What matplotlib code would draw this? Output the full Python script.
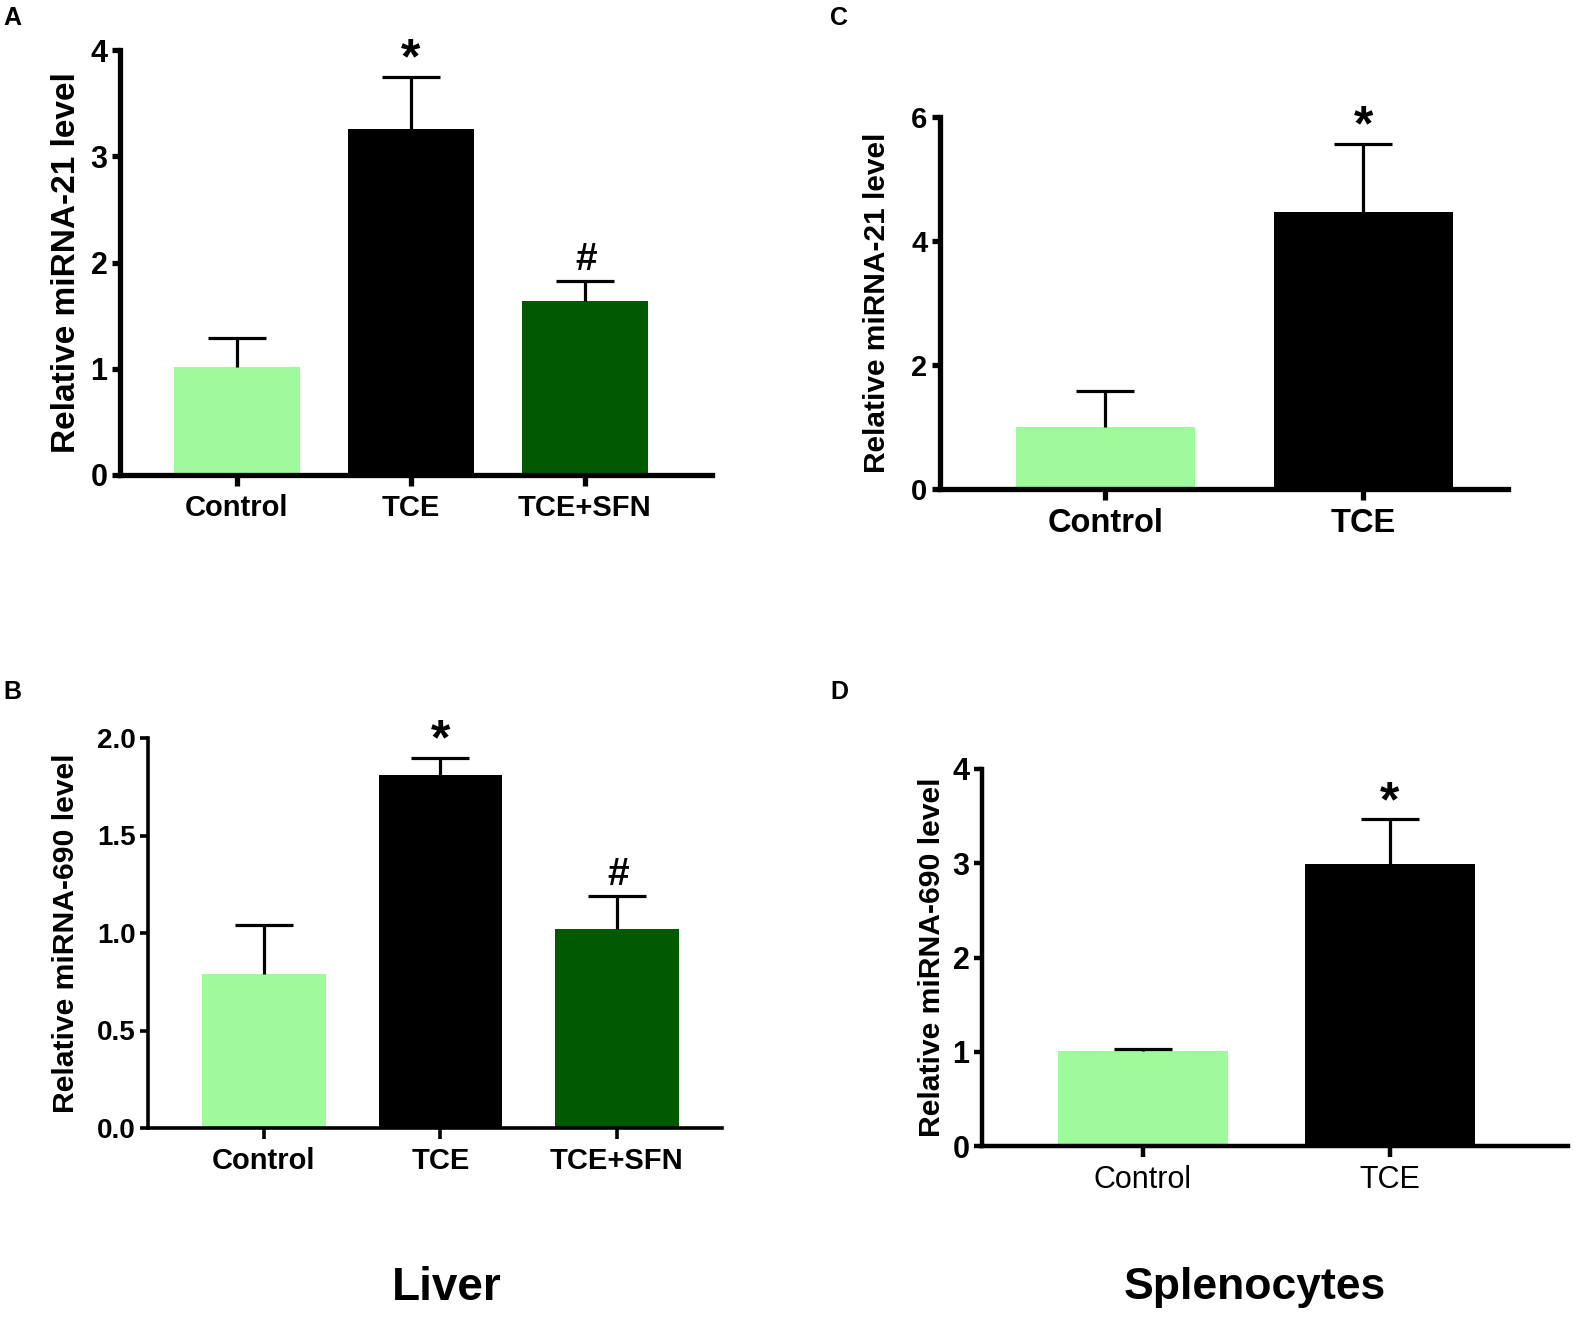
import matplotlib.pyplot as plt
import numpy as np

plt.rcParams['font.family'] = ['Liberation Sans', 'DejaVu Sans']

W, H = 1579, 1320
fig = plt.figure(figsize=(W / 100, H / 100), dpi=100)

LIGHT = '#9ffa9c'
DARK = '#015a01'
BLACK = '#000000'

# --- data ---
liver_groups = ['Control', 'TCE', 'TCE+SFN']
spleen_groups = ['Control', 'TCE']

a_mean = [1.02, 3.26, 1.64]     # liver miRNA-21
a_err = [0.27, 0.49, 0.19]
b_mean = [0.79, 1.81, 1.02]     # liver miRNA-690
b_err = [0.25, 0.09, 0.17]
c_mean = [1.00, 4.47]           # splenocytes miRNA-21
c_err = [0.58, 1.10]
d_mean = [1.01, 2.99]           # splenocytes miRNA-690
d_err = [0.02, 0.48]

liver_marks = ['', '*', '#']
spleen_marks = ['', '*']

a_yticks = [0, 1, 2, 3, 4]
b_yticks = [0.0, 0.5, 1.0, 1.5, 2.0]
c_yticks = [0, 2, 4, 6]
d_yticks = [0, 1, 2, 3, 4]


def px_axes(l, r, t, b):
    return fig.add_axes([l / W, 1 - b / H, (r - l) / W, (b - t) / H])


def panel(box, groups, means, errs, colors, marks, yticks, ylabels, xlim, width,
          ylabel, spine_w, xfs, yfs, lfs, label_right, x_bold=True, mark_fs=36):
    l, r, t, b = box
    ax = px_axes(l, r, t, b)
    x = np.arange(len(groups))
    ax.bar(x, means, width=width, color=colors, edgecolor='none', zorder=1)
    eb = ax.errorbar(x, means, yerr=[np.zeros(len(x)), errs], fmt='none',
                     ecolor='black', elinewidth=2.3, capsize=21, capthick=2.3, zorder=3)
    # only the upper cap is shown
    eb[1][0].set_visible(False)
    for xi, m, e, s in zip(x, means, errs, marks):
        if not s:
            continue
        if s == '*':
            ax.annotate(s, (xi, m + e), xytext=(0, -5), textcoords='offset points',
                        ha='center', va='bottom', fontsize=mark_fs, fontweight='bold')
        else:
            ax.annotate(s, (xi, m + e), xytext=(1, 2), textcoords='offset points',
                        ha='center', va='bottom', fontsize=mark_fs * 0.78, fontweight='bold')
    ax.set_xlim(*xlim)
    ax.set_ylim(yticks[0], yticks[-1])
    ax.set_yticks(yticks)
    ax.set_yticklabels(ylabels, fontsize=yfs, fontweight='bold')
    ax.set_xticks(x)
    ax.set_xticklabels(groups, fontsize=xfs, fontweight='bold' if x_bold else 'normal')
    for side in ['top', 'right']:
        ax.spines[side].set_visible(False)
    for side in ['left', 'bottom']:
        ax.spines[side].set_linewidth(spine_w)
    ax.tick_params(axis='x', length=8, width=spine_w, pad=6)
    ax.tick_params(axis='y', length=6, width=spine_w, pad=3)
    ax.set_ylabel(ylabel, fontsize=lfs, fontweight='bold')
    ax.yaxis.set_label_coords((label_right - l) / (r - l), 0.5)
    return ax


panel((120, 712, 50, 475), liver_groups, a_mean, a_err, [LIGHT, BLACK, DARK],
      liver_marks, a_yticks, [str(v) for v in a_yticks], (-0.672, 2.73), 0.72,
      'Relative miRNA-21 level', 3.8, 21, 22, 24, 82)

panel((148, 722, 738, 1128), liver_groups, b_mean, b_err, [LIGHT, BLACK, DARK],
      liver_marks, b_yticks, ['%.1f' % v for v in b_yticks], (-0.657, 2.595), 0.70,
      'Relative miRNA-690 level', 2.6, 21, 20, 21.7, 80)

panel((940, 1508, 117, 489), spleen_groups, c_mean, c_err, [LIGHT, BLACK],
      spleen_marks, c_yticks, [str(v) for v in c_yticks], (-0.64, 1.56), 0.695,
      'Relative miRNA-21 level', 3.8, 23.5, 21, 21.5, 891)

panel((982, 1568, 769, 1146), spleen_groups, d_mean, d_err, [LIGHT, BLACK],
      spleen_marks, d_yticks, [str(v) for v in d_yticks], (-0.65, 1.72), 0.686,
      'Relative miRNA-690 level', 3.2, 22, 22, 21.7, 946, x_bold=False)

# panel letters and group titles
for letter, (px, py) in {'A': (3, 6), 'B': (3, 680), 'C': (830, 6), 'D': (830, 680)}.items():
    fig.text(px / W, 1 - py / H, letter, fontsize=18, fontweight='bold', ha='left', va='top')

fig.text(447 / W, 1 - 1288 / H, 'Liver', fontsize=33, fontweight='bold', ha='center', va='center')
fig.text(1255 / W, 1 - 1288 / H, 'Splenocytes', fontsize=32, fontweight='bold', ha='center', va='center')

fig.savefig('out.png', dpi=100, facecolor='white')
